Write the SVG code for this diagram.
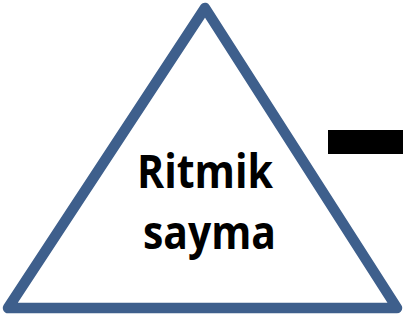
<svg xmlns="http://www.w3.org/2000/svg" width="403" height="324" viewBox="0 0 403 324">
<style>
.lbl{font-family:"Open Sans","Liberation Sans",sans-serif;font-weight:bold;font-size:46px;fill:#000;text-anchor:middle}
</style>
<rect width="403" height="324" fill="#fff"/>
<g id="triangle">
<polygon points="205,8 8,308 397,308" fill="#fff" stroke="#3E5F8C" stroke-width="10.5" stroke-linejoin="round"/>
<text class="lbl" x="205" y="188" textLength="136" lengthAdjust="spacingAndGlyphs">Ritmik</text>
<text class="lbl" x="209.5" y="249" textLength="133" lengthAdjust="spacingAndGlyphs">sayma</text>
</g>
<g id="bar">
<rect x="328" y="130" width="75" height="24" fill="#000"/>
</g>
<g id="connectors"></g>
</svg>
